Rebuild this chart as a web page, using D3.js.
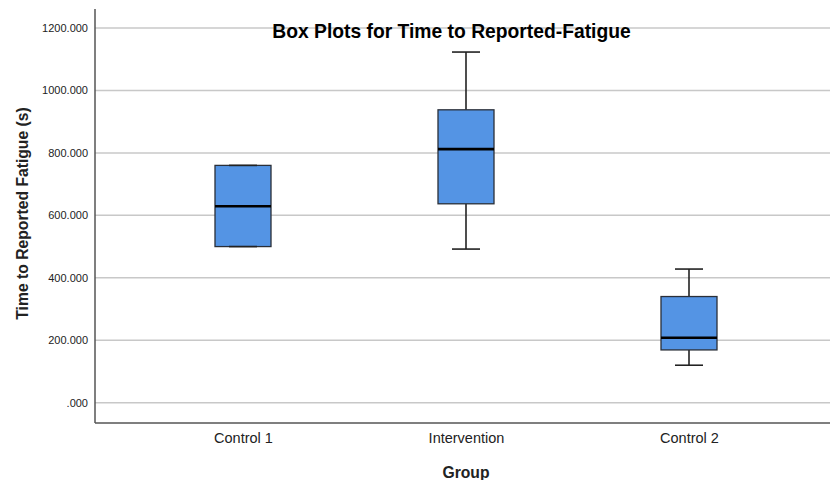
<!DOCTYPE html>
<html>
<head>
<meta charset="utf-8">
<script src="https://cdn.jsdelivr.net/npm/d3@7"></script>
<style>
  html, body { margin: 0; padding: 0; background: #fff; }
  svg { display: block; font-family: "Liberation Sans", Arial, sans-serif; }
</style>
</head>
<body>
<svg id="chart" width="830" height="480"></svg>
<script>
// Five-number summaries per group (seconds)
const groups  = ["Control 1", "Intervention", "Control 2"];
const mins    = [500, 492, 120];
const q1s     = [500, 637, 169];
const medians = [629, 812, 208];
const q3s     = [760, 938, 340];
const maxs    = [760, 1123, 428];
const yTicks  = [0, 200, 400, 600, 800, 1000, 1200];

(function draw() {
  const svg = d3.select("#chart");
  const W = 830;
  const plotLeft = 95, plotBottom = 423, plotTop = 9;

  const y = d3.scaleLinear().domain([0, 1200]).range([402.7, 28]);
  const x = d3.scalePoint().domain(groups).range([243, 689]);
  const boxW = 56, capW = 28;

  const fmt = v => v === 0 ? ".000" : d3.format(".3f")(v);

  // Horizontal gridlines
  svg.append("g").selectAll("line").data(yTicks).join("line")
    .attr("x1", plotLeft).attr("x2", W)
    .attr("y1", d => y(d)).attr("y2", d => y(d))
    .attr("stroke", "#c8c8c8").attr("stroke-width", 1.5);

  // Y axis (labels only, no tick marks)
  const yAxis = d3.axisLeft(y).tickValues(yTicks).tickFormat(fmt).tickSize(0).tickPadding(7);
  const gy = svg.append("g").attr("transform", `translate(${plotLeft},0)`).call(yAxis);
  gy.select(".domain").remove();
  gy.selectAll("text").attr("font-size", 11).attr("fill", "#222")
    .attr("font-family", "'Liberation Sans', Arial, sans-serif");

  // X axis labels
  const xAxis = d3.axisBottom(x).tickSize(0).tickPadding(10);
  const gx = svg.append("g").attr("transform", `translate(0,${plotBottom})`).call(xAxis);
  gx.select(".domain").remove();
  gx.selectAll("text").attr("font-size", 14.5).attr("fill", "#222")
    .attr("font-family", "'Liberation Sans', Arial, sans-serif");

  // Frame lines
  svg.append("line").attr("x1", plotLeft).attr("x2", plotLeft).attr("y1", plotTop).attr("y2", plotBottom)
    .attr("stroke", "#555").attr("stroke-width", 1.5);
  svg.append("line").attr("x1", plotLeft).attr("x2", W).attr("y1", plotBottom).attr("y2", plotBottom)
    .attr("stroke", "#555").attr("stroke-width", 1.5);

  // Boxes
  const data = groups.map((g, i) => ({
    g, min: mins[i], q1: q1s[i], med: medians[i], q3: q3s[i], max: maxs[i]
  }));

  const bx = svg.append("g").selectAll("g").data(data).join("g");

  // whisker stems
  bx.append("line")
    .attr("x1", d => x(d.g)).attr("x2", d => x(d.g))
    .attr("y1", d => y(d.max)).attr("y2", d => y(d.q3))
    .attr("stroke", "#222").attr("stroke-width", 1.6);
  bx.append("line")
    .attr("x1", d => x(d.g)).attr("x2", d => x(d.g))
    .attr("y1", d => y(d.q1)).attr("y2", d => y(d.min))
    .attr("stroke", "#222").attr("stroke-width", 1.6);

  // box body
  bx.append("rect")
    .attr("x", d => x(d.g) - boxW / 2).attr("width", boxW)
    .attr("y", d => y(d.q3)).attr("height", d => y(d.q1) - y(d.q3))
    .attr("fill", "#5494e4").attr("stroke", "#2a2f38").attr("stroke-width", 1.3);

  // whisker caps
  bx.append("line")
    .attr("x1", d => x(d.g) - capW / 2).attr("x2", d => x(d.g) + capW / 2)
    .attr("y1", d => y(d.max)).attr("y2", d => y(d.max))
    .attr("stroke", "#222").attr("stroke-width", 1.6);
  bx.append("line")
    .attr("x1", d => x(d.g) - capW / 2).attr("x2", d => x(d.g) + capW / 2)
    .attr("y1", d => y(d.min)).attr("y2", d => y(d.min))
    .attr("stroke", "#222").attr("stroke-width", 1.6);

  // median
  bx.append("line")
    .attr("x1", d => x(d.g) - boxW / 2).attr("x2", d => x(d.g) + boxW / 2)
    .attr("y1", d => y(d.med)).attr("y2", d => y(d.med))
    .attr("stroke", "#000").attr("stroke-width", 2.6);

  // Title
  svg.append("text").attr("x", 451.5).attr("y", 37.5).attr("text-anchor", "middle")
    .attr("font-size", 19.3).attr("font-weight", "bold").attr("fill", "#000")
    .text("Box Plots for Time to Reported-Fatigue");

  // Axis titles
  svg.append("text").attr("x", x("Intervention")).attr("y", 478).attr("text-anchor", "middle")
    .attr("font-size", 15.7).attr("font-weight", "bold").attr("fill", "#222")
    .text("Group");
  svg.append("text")
    .attr("transform", `translate(27.5,213.5) rotate(-90)`)
    .attr("text-anchor", "middle")
    .attr("font-size", 15.7).attr("font-weight", "bold").attr("fill", "#222")
    .text("Time to Reported Fatigue (s)");
})();
</script>
</body>
</html>
